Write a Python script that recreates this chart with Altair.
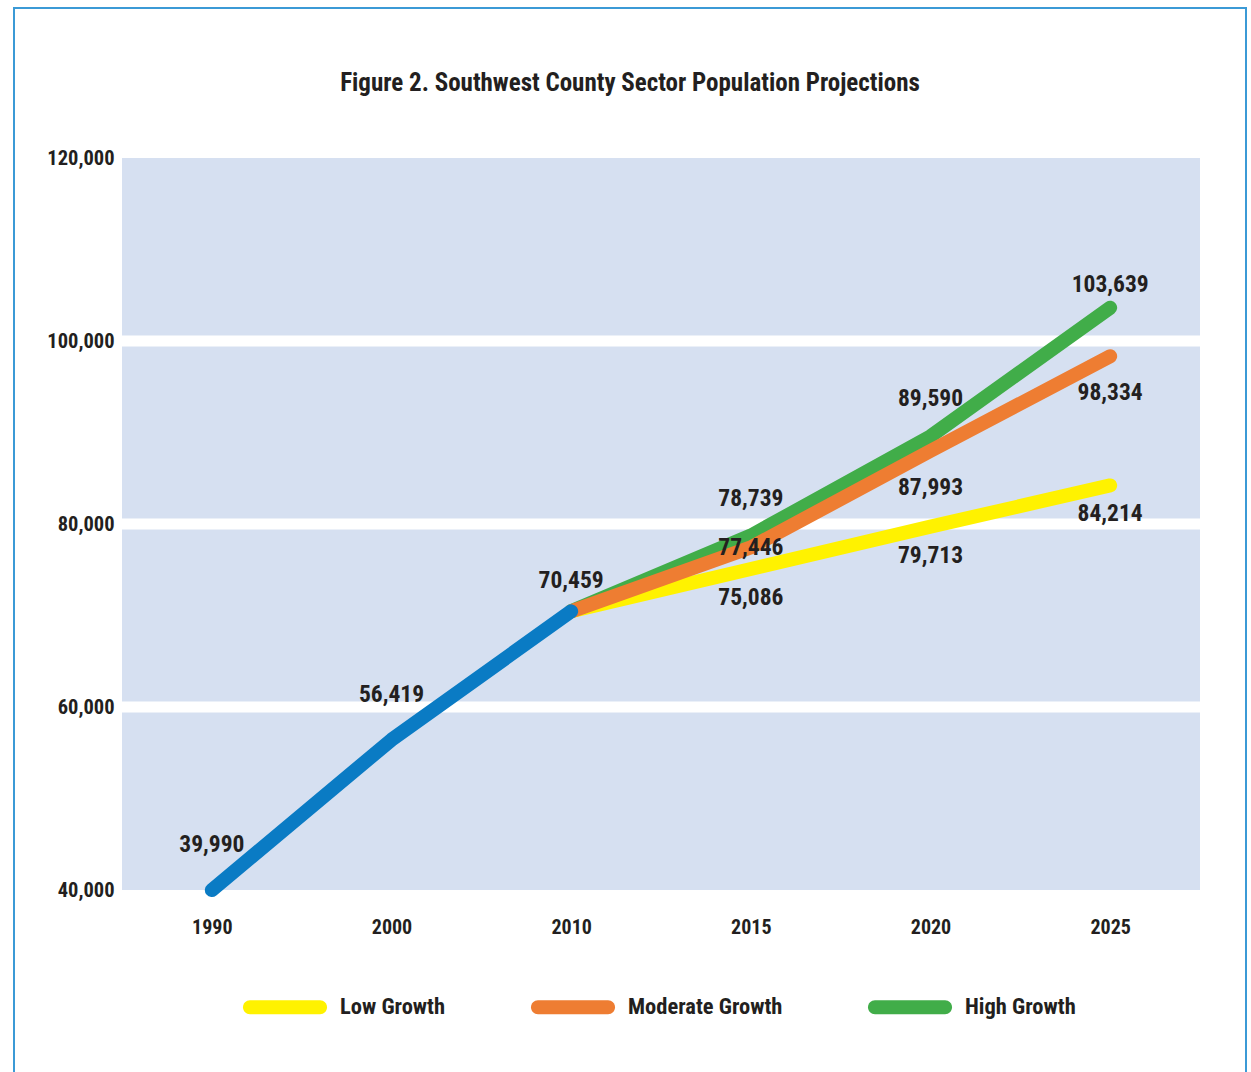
import altair as alt
import pandas as pd

# ---- data ----
years = ["1990", "2000", "2010", "2015", "2020", "2025"]
hist_years = ["1990", "2000", "2010"]
hist_values = [39990, 56419, 70459]
proj_years = ["2010", "2015", "2020", "2025"]
low_values = [70459, 75086, 79713, 84214]
moderate_values = [70459, 77446, 87993, 98334]
high_values = [70459, 78739, 89590, 103639]
series_names = ["Low Growth", "Moderate Growth", "High Growth"]
series_colors = ["#fff200", "#ee7d32", "#41ad49"]
y_ticks = [40000, 60000, 80000, 100000, 120000]
grid_values = [60000, 80000, 100000]

label_years = ["1990", "2000", "2010", "2015", "2015", "2015",
               "2020", "2020", "2020", "2025", "2025", "2025"]
label_values = [39990, 56419, 70459, 78739, 77446, 75086,
                89590, 87993, 79713, 103639, 98334, 84214]
label_place = ["above_far", "above_far", "above_near", "above", "on", "below",
               "above", "below_far", "below", "above_close", "below_far", "below"]

FONT = "Roboto Condensed, Noto Sans CJK JP, sans-serif"
TEXT = "#231f20"

hist_df = pd.DataFrame({"year": hist_years, "value": hist_values})
def series_df(name, vals):
    return pd.DataFrame({"year": proj_years, "value": vals, "series": name})

low_df = series_df("Low Growth", low_values)
mod_df = series_df("Moderate Growth", moderate_values)
high_df = series_df("High Growth", high_values)
legend_df = pd.DataFrame({"year": proj_years[:3], "value": low_values[:3],
                          "series": series_names})
labels_df = pd.DataFrame({"year": label_years, "value": label_values,
                          "place": label_place})
labels_df["text"] = labels_df["value"].map(lambda v: f"{v:,}")
grid_df = pd.DataFrame({"value": grid_values})

x_enc = alt.X("year:O", scale=alt.Scale(domain=years, padding=0.5),
              axis=alt.Axis(title=None, labelAngle=0, labelPadding=27,
                            ticks=False, tickSize=0, domain=False,
                            labelFontSize=20))
y_enc = alt.Y("value:Q", scale=alt.Scale(domain=[40000, 120000], nice=False, zero=False),
              axis=alt.Axis(title=None, values=y_ticks,
                            labelExpr="format(datum.value, ',')", grid=False,
                            ticks=False, tickSize=0, domain=False, labelPadding=8,
                            labelFontSize=20.5, labelBaseline="middle"))

# rounded bar swatch (unit box -1..1)
legend_symbol = ("M-0.8333,-0.1667 L0.8333,-0.1667 "
                 "A0.1667,0.1667 0 0,1 0.8333,0.1667 L-0.8333,0.1667 "
                 "A0.1667,0.1667 0 0,1 -0.8333,-0.1667 Z")

color_scale = alt.Scale(domain=series_names, range=series_colors)
color_nolegend = alt.Color("series:N", scale=color_scale, legend=None)
color_legend = alt.Color(
    "series:N", scale=color_scale,
    legend=alt.Legend(title=None, orient="none", legendX=121, legendY=807,
                      direction="horizontal", symbolType=legend_symbol,
                      symbolSize=7056, symbolStrokeWidth=0, symbolOpacity=1,
                      labelFontSize=22.5, labelFont=FONT, labelFontWeight="bold",
                      labelColor=TEXT, labelOffset=13, columnPadding=85,
                      labelLimit=300),
)

line_kw = dict(strokeWidth=14, strokeCap="round", strokeJoin="round")

grid = alt.Chart(grid_df).mark_rule(color="white", strokeWidth=11).encode(y=y_enc)

legend_layer = alt.Chart(legend_df).transform_filter("false").mark_point(
    filled=True, opacity=1, shape=legend_symbol, size=7056
).encode(x=x_enc, y=y_enc, color=color_legend)

def growth_line(df):
    return alt.Chart(df).mark_line(**line_kw).encode(x=x_enc, y=y_enc, color=color_nolegend)

hist = alt.Chart(hist_df).mark_line(**line_kw).encode(
    x=x_enc, y=y_enc, color=alt.value("#0a7bc4"))

place_dy = {"above_far": -45, "above": -37, "above_near": -30, "above_close": -23,
            "on": 1, "below": 29, "below_far": 37}
label_layers = []
for place, dy in place_dy.items():
    label_layers.append(
        alt.Chart(labels_df).transform_filter(alt.datum.place == place)
        .mark_text(font=FONT, fontSize=23.5, fontWeight="bold", color=TEXT,
                   baseline="middle", align="center", dy=dy)
        .encode(x=x_enc, y=y_enc, text="text:N")
    )

frame = alt.Chart(pd.DataFrame({"a": [0]})).mark_rect(
    fill=None, stroke="#3b9ad6", strokeWidth=2, clip=False
).encode(x=alt.value(-108), x2=alt.value(1124), y=alt.value(-150), y2=alt.value(930))

chart = alt.layer(
    legend_layer, grid, growth_line(high_df), growth_line(low_df), growth_line(mod_df),
    hist, *label_layers, frame
).properties(
    width=1078, height=732,
    title=alt.TitleParams(
        "Figure 2. Southwest County Sector Population Projections",
        font=FONT, fontSize=25, fontWeight="bold", color=TEXT,
        anchor="middle", dx=-31, offset=-89),
    padding={"left": 122, "top": 158, "right": 51, "bottom": 182},
    autosize=alt.AutoSizeParams(type="none"),
    background="white",
).configure_view(fill="#d6e0f1", stroke=None).configure_axis(
    labelFont=FONT, labelFontWeight="bold", labelColor=TEXT
)

chart.save("out.html", embed_options={"renderer": "svg", "actions": False})
